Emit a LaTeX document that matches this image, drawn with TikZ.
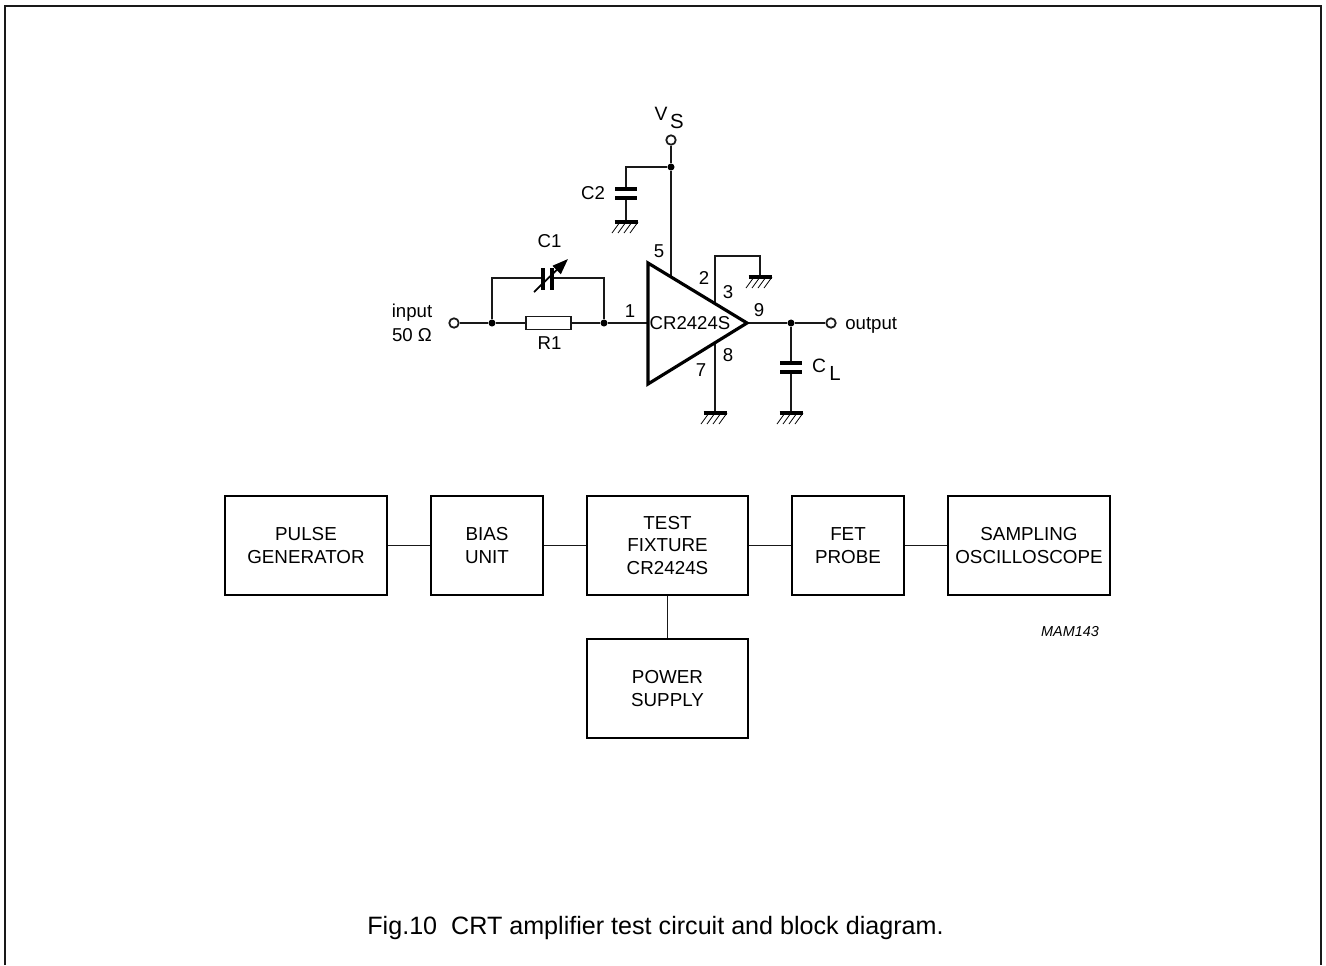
\documentclass[tikz,border=0pt]{standalone}
\usepackage{fontspec}
\setmainfont{Liberation Sans}
\usetikzlibrary{arrows.meta}
\tikzset{
  wire/.style={line width=1pt, color=black!90},
  heavy/.style={line width=1.8pt, color=black},
  plate/.style={line width=2pt, color=black},
  block/.style={draw, line width=1.4pt, minimum width=#1*0.02cm, minimum height=99*0.02cm, align=center, inner sep=0pt, font=\fontsize{10.7}{12.8}\selectfont},
  dotnode/.style={circle, fill=black, inner sep=0pt, minimum size=4pt},
  termnode/.style={circle, draw, wire, fill=white, inner sep=0pt, minimum size=5.4pt},
  lab/.style={inner sep=0pt, font=\fontsize{10.6}{13}\selectfont, align=center}
}
\begin{document}
\begin{tikzpicture}[x=0.02cm, y=-0.02cm]
      \useasboundingbox (0, 0) rectangle (1326, 965);
      \draw[wire] (5, 965)--(5, 6)--(1321, 6)--(1321, 965);
      % circuit
      \coordinate (tl) at (648, 263);
      \coordinate (bl) at (648, 384);
      \coordinate (tip) at (747, 323);
      \coordinate (pin1) at (648, 323);
      \coordinate (pin5) at (671, 276);
      \coordinate (pin3) at (715, 303);
      \coordinate (pin8) at (715, 343);
      \coordinate (c1l) at (492, 278);
      \coordinate (c1r) at (604, 278);
      \coordinate (c1a) at (543, 278);
      \coordinate (c1b) at (552, 278);
      \coordinate (c2top) at (626, 167);
      \coordinate (c2a) at (626, 189);
      \coordinate (c2b) at (626, 198);
      \coordinate (gc2) at (626, 222);
      \coordinate (top23) at (715, 256);
      \coordinate (topg) at (760, 256);
      \coordinate (g23) at (760, 277);
      \coordinate (g8) at (715, 413);
      \coordinate (cla) at (791, 363);
      \coordinate (clb) at (791, 372);
      \coordinate (gcl) at (791, 413);
      \node[termnode] (in) at (454, 323) {};
      \node[dotnode] (j1) at (492, 323) {};
      \node[dotnode] (j2) at (604, 323) {};
      \node[draw, wire, minimum width=45*0.02cm, minimum height=13*0.02cm, inner sep=0pt] (r1) at (548.5, 323) {};
      \node[termnode] (vs) at (671, 140) {};
      \node[dotnode] (j3) at (671, 167) {};
      \node[dotnode] (j4) at (791, 323) {};
      \node[termnode] (out) at (831, 323) {};
      \draw[wire] (in)--(j1)--(r1)--(j2)--(pin1);
      \draw[wire] (j1)--(c1l)--(c1a);
      \draw[wire] (j2)--(c1r)--(c1b);
      \draw[wire] (vs)--(j3)--(pin5);
      \draw[wire] (j3)--(c2top)--(c2a);
      \draw[wire] (c2b)--(gc2);
      \draw[wire] (pin3)--(top23)--(topg)--(g23);
      \draw[wire] (pin8)--(g8);
      \draw[wire] (tip)--(j4)--(out);
      \draw[wire] (j4)--(cla);
      \draw[wire] (clb)--(gcl);
      \draw[heavy, line join=miter] (tl)--(tip)--(bl)--cycle;
      % capacitors
      \draw[plate] (543, 268)--(543, 290);
      \draw[plate] (552, 268)--(552, 290);
      \draw[line width=1pt, -{Triangle[length=9pt, width=6.5pt]}] (534, 292)--(568, 259);
      \foreach \xc/\yc in {626/189, 626/198, 791/363, 791/372}
        \draw[plate] (\xc-11, \yc)--(\xc+11, \yc);
      % earth symbols
      \foreach \xg/\yg in {626/222, 760/277, 715/413, 791/413} {
        \draw[plate] (\xg-11.5, \yg)--(\xg+11.5, \yg);
        \foreach \dx in {-5, 1, 7, 13}
          \draw[line width=0.45pt] (\xg+\dx-1, \yg)--(\xg+\dx-9, \yg+11);
      }
      % circuit labels
      \node[lab] (inlab) at (412, 323) {input\\[1pt]50 Ω};
      \node[lab] (c1lab) at (549.5, 241) {C1};
      \node[lab] (r1lab) at (549.5, 343) {R1};
      \node[lab] (c2lab) at (593, 193) {C2};
      \node[lab, font=\fontsize{11}{13}\selectfont] (vlab) at (661, 114) {V};
      \node[lab, font=\fontsize{11.6}{14}\selectfont] (slab) at (677, 121) {S};
      \node[lab] (p5) at (659, 251) {5};
      \node[lab] (p2) at (704, 278) {2};
      \node[lab] (p3) at (728, 292) {3};
      \node[lab] (p1) at (630, 311) {1};
      \node[lab] (p9) at (759, 310) {9};
      \node[lab] (p8) at (728, 355) {8};
      \node[lab] (p7) at (701, 370) {7};
      \node[lab] (amp) at (690, 323) {CR2424S};
      \node[lab, anchor=west] (outlab) at (845, 325) {output};
      \node[lab, font=\fontsize{11}{13}\selectfont] (cc) at (819, 366) {C};
      \node[lab, font=\fontsize{11.6}{14}\selectfont] (ll) at (835, 373) {L};
      % block diagram
      \node[block=162] (pulse) at (306, 545.5) {PULSE\\GENERATOR};
      \node[block=112] (bias) at (487, 545.5) {BIAS\\UNIT};
      \node[block=161] (test) at (667.5, 545.5) {TEST\\FIXTURE\\CR2424S};
      \node[block=112] (fet) at (848, 545.5) {FET\\PROBE};
      \node[block=162] (samp) at (1029, 545.5) {SAMPLING\\OSCILLOSCOPE};
      \node[block=161] (power) at (667.5, 688.5) {POWER\\SUPPLY};
      \draw[wire] (pulse)--(bias);
      \draw[wire] (bias)--(test);
      \draw[wire] (test)--(fet);
      \draw[wire] (fet)--(samp);
      \draw[wire] (test)--(power);
      \node[inner sep=0pt, font=\fontsize{8.2}{9}\selectfont\itshape] (ref) at (1070, 632) {MAM143};
      \node[inner sep=0pt, font=\fontsize{14.3}{16}\selectfont] (caption) at (655.5, 928) {Fig.10\ \ CRT amplifier test circuit and block diagram.};
    \end{tikzpicture}
\end{document}
